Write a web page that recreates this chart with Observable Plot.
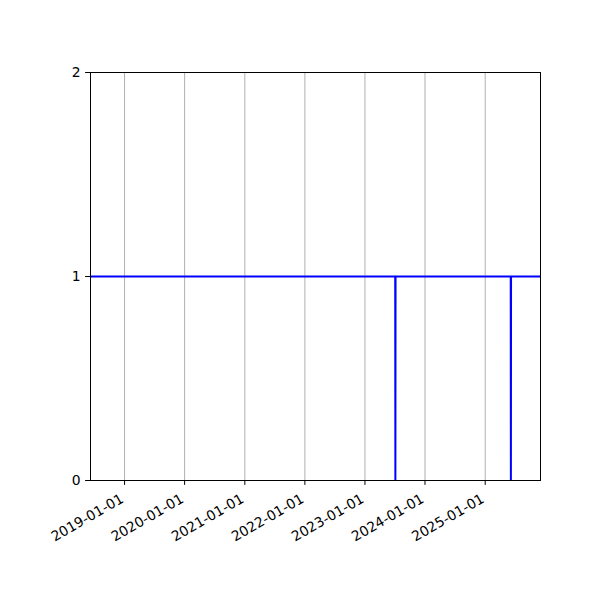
<!DOCTYPE html>
<html>
<head>
<meta charset="utf-8">
<script src="https://cdn.jsdelivr.net/npm/d3@7"></script>
<script src="https://cdn.jsdelivr.net/npm/@observablehq/plot@0.6"></script>
<style>
  html, body { margin: 0; padding: 0; background: #fff; }
  svg { font-family: "DejaVu Sans", sans-serif; }
</style>
</head>
<body>
<div id="chart"></div>
<script>
// Data
const dates = ["2018-06-08", "2023-07-04", "2023-07-05", "2023-07-06", "2025-06-05", "2025-06-06", "2025-06-07", "2025-12-03"];
const values = [1, 1, 0, 1, 1, 0, 1, 1];
const xTickLabels = ["2019-01-01", "2020-01-01", "2021-01-01", "2022-01-01", "2023-01-01", "2024-01-01", "2025-01-01"];
const yTicks = [0, 1, 2];

const data = dates.map((d, i) => ({date: new Date(d + "T00:00:00Z"), value: values[i]}));
const xTicks = xTickLabels.map(s => new Date(s + "T00:00:00Z"));

const chart = Plot.plot({
  width: 600,
  height: 600,
  marginLeft: 90,
  marginRight: 60,
  marginTop: 72,
  marginBottom: 120,
  style: {fontFamily: "DejaVu Sans, sans-serif", fontSize: "13.9px", background: "#fff", color: "#000"},
  x: {type: "utc", domain: [data[0].date, data[data.length - 1].date]},
  y: {domain: [0, 2]},
  marks: [
    Plot.gridX(xTicks, {stroke: "#b0b0b0", strokeOpacity: 1, strokeWidth: 1}),
    Plot.line(data, {x: "date", y: "value", stroke: "#0000ff", strokeWidth: 2, curve: "linear", clip: true}),
    Plot.frame({stroke: "#000", strokeWidth: 1}),
    Plot.axisY(yTicks, {tickSize: 4.9, tickPadding: 4.9, fontSize: 13.9, label: null, tickFormat: d => String(d), stroke: "#000"}),
    Plot.axisX(xTicks, {tickSize: 4.9, text: null, label: null, stroke: "#000"}),
    Plot.text(xTicks, {x: d => d, text: (d, i) => xTickLabels[i], frameAnchor: "bottom", dy: 21, dx: 0, rotate: -30, textAnchor: "end", lineAnchor: "bottom", fontSize: 13.9, fill: "#000"})
  ]
});
document.getElementById("chart").appendChild(chart);
</script>
</body>
</html>
